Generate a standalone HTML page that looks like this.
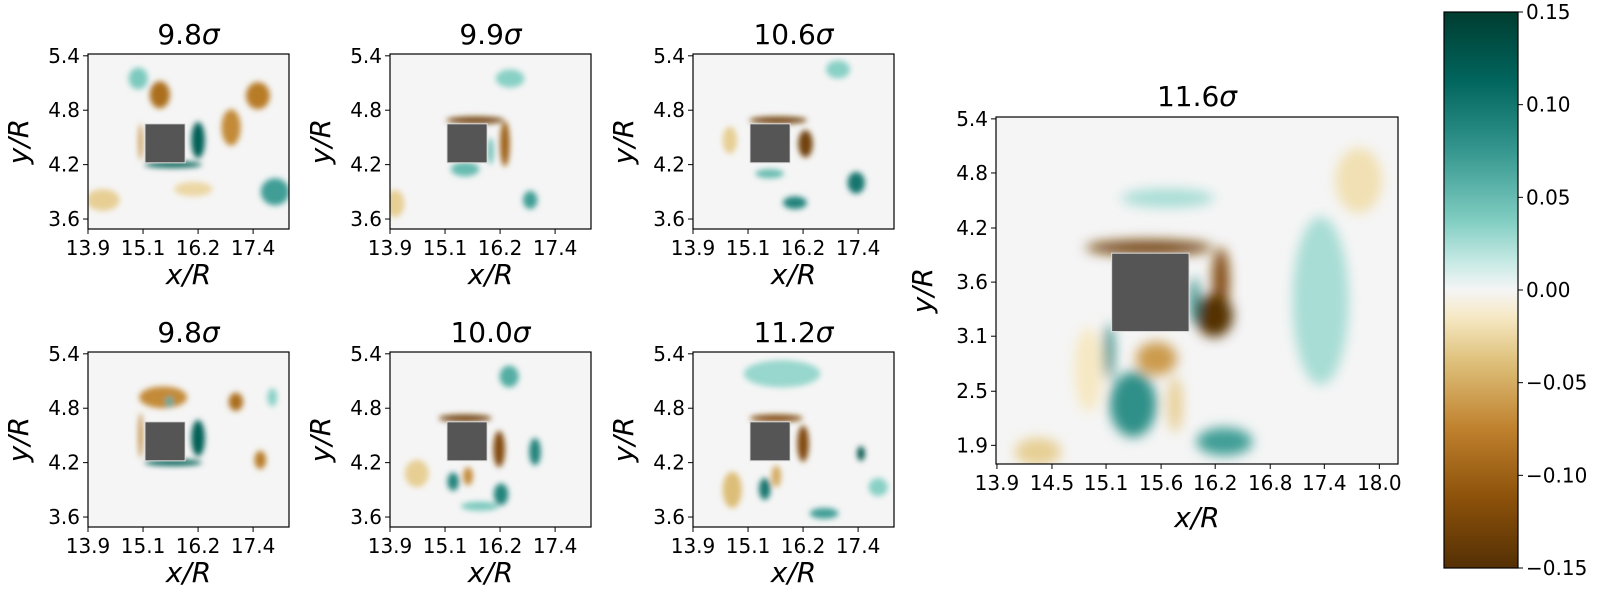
<!DOCTYPE html>
<html><head><meta charset="utf-8">
<style>
html,body{margin:0;padding:0;background:#fff;}
svg{display:block;font-family:"DejaVu Sans","Liberation Sans",sans-serif;}
</style></head>
<body>
<svg id="fig" width="1600" height="600" viewBox="0 0 1600 600" xmlns="http://www.w3.org/2000/svg">
<defs>
<filter id="blurS" x="-50%" y="-50%" width="200%" height="200%"><feGaussianBlur stdDeviation="3"/></filter>
<filter id="blurL" x="-50%" y="-50%" width="200%" height="200%"><feGaussianBlur stdDeviation="6"/></filter>
<linearGradient id="cbGrad" x1="0" y1="1" x2="0" y2="0">
<stop offset="0" stop-color="#543005"/><stop offset="0.125" stop-color="#8c510a"/><stop offset="0.25" stop-color="#bf812d"/><stop offset="0.375" stop-color="#dfc27d"/><stop offset="0.45" stop-color="#f6e8c3"/><stop offset="0.5" stop-color="#f5f5f5"/><stop offset="0.55" stop-color="#c7eae5"/><stop offset="0.625" stop-color="#80cdc1"/><stop offset="0.75" stop-color="#35978f"/><stop offset="0.875" stop-color="#01665e"/><stop offset="1" stop-color="#003c30"/>
</linearGradient>
</defs>
</svg>
<script>
// ---- data ----
const smallTitles = ["9.8", "9.9", "10.6", "9.8", "10.0", "11.2"];
const bigTitle = "11.6";
const smallXTicks = [13.9, 15.05, 16.2, 17.35];
const smallXTickLabels = ["13.9", "15.1", "16.2", "17.4"];
const smallYTicks = [5.4, 4.8, 4.2, 3.6];
const smallYTickLabels = ["5.4", "4.8", "4.2", "3.6"];
const bigXTicks = [13.9, 14.49, 15.07, 15.66, 16.24, 16.83, 17.41, 18.0];
const bigXTickLabels = ["13.9", "14.5", "15.1", "15.6", "16.2", "16.8", "17.4", "18.0"];
const bigYTicks = [5.4, 4.82, 4.23, 3.65, 3.07, 2.48, 1.9];
const bigYTickLabels = ["5.4", "4.8", "4.2", "3.6", "3.1", "2.5", "1.9"];
const cbTicks = [0.15, 0.10, 0.05, 0.00, -0.05, -0.10, -0.15];
const cbTickLabels = ["0.15", "0.10", "0.05", "0.00", "\u22120.05", "\u22120.10", "\u22120.15"];
const smallSquare = [15.09, 15.93, 4.22, 4.65];
const bigSquare = [15.13, 15.96, 3.12, 3.96];
// blobs: [x, y, rx, ry, vorticity]
const blobs1 = [[15.40,4.97,0.21,0.15,-0.09],[17.45,4.96,0.25,0.15,-0.08],[16.89,4.61,0.2,0.2,-0.07],[17.81,3.90,0.3,0.15,0.07],[16.2,4.47,0.14,0.2,0.12],[15.68,4.20,0.6,0.035,0.12],[14.21,3.81,0.35,0.12,-0.03],[16.1,3.93,0.4,0.08,-0.025],[14.95,5.15,0.2,0.12,0.04],[15.0,4.45,0.04,0.2,-0.07]];
const blobs2 = [[15.68,4.69,0.6,0.04,-0.13],[16.3,4.43,0.1,0.25,-0.1],[16.83,3.81,0.15,0.1,0.07],[16.41,5.15,0.3,0.1,0.035],[15.47,4.15,0.3,0.08,0.05],[14.0,3.77,0.2,0.15,-0.03],[16.0,4.35,0.06,0.15,0.05]];
const blobs3 = [[15.68,4.69,0.6,0.04,-0.13],[16.25,4.43,0.15,0.15,-0.13],[17.31,4.0,0.18,0.12,0.1],[16.03,3.78,0.25,0.07,0.09],[16.93,5.25,0.25,0.1,0.035],[14.67,4.47,0.15,0.15,-0.03],[15.5,4.1,0.3,0.05,0.05]];
const blobs4 = [[15.47,4.92,0.5,0.12,-0.07],[16.99,4.87,0.15,0.1,-0.09],[17.5,4.23,0.12,0.1,-0.08],[16.2,4.47,0.14,0.2,0.12],[15.68,4.20,0.6,0.035,0.12],[15.6,4.87,0.08,0.06,0.06],[17.75,4.92,0.1,0.1,0.035],[15.0,4.5,0.04,0.25,-0.08]];
const blobs5 = [[16.39,5.15,0.2,0.12,0.06],[15.47,4.69,0.55,0.04,-0.13],[16.18,4.35,0.12,0.2,-0.12],[16.93,4.32,0.12,0.15,0.09],[16.22,3.85,0.15,0.12,0.09],[15.22,3.99,0.12,0.1,0.09],[15.53,4.05,0.1,0.1,-0.07],[14.46,4.08,0.25,0.15,-0.03],[15.78,3.72,0.4,0.05,0.04]];
const blobs6 = [[15.76,5.18,0.8,0.15,0.03],[15.64,4.69,0.55,0.04,-0.12],[16.2,4.41,0.12,0.2,-0.12],[17.41,4.30,0.08,0.08,0.13],[15.4,3.91,0.12,0.12,0.1],[15.64,4.05,0.1,0.12,-0.05],[14.72,3.9,0.2,0.2,-0.04],[16.64,3.64,0.3,0.06,0.07],[17.77,3.93,0.2,0.1,0.035]];
const blobsBig = [[15.53,4.02,0.68,0.08,-0.13],[16.3,3.67,0.09,0.35,-0.12],[16.23,3.29,0.2,0.23,-0.15],[16.02,3.45,0.05,0.25,0.09],[15.36,2.34,0.25,0.35,0.08],[15.1,2.9,0.05,0.3,0.09],[15.61,2.83,0.22,0.18,-0.06],[15.81,2.34,0.08,0.3,-0.03],[16.34,1.94,0.3,0.15,0.07],[17.37,3.45,0.3,0.9,0.025],[15.73,4.55,0.5,0.1,0.025],[17.78,4.74,0.25,0.35,-0.02],[14.34,1.83,0.25,0.15,-0.03],[14.88,2.71,0.15,0.45,-0.015]];

const NS="http://www.w3.org/2000/svg";
const svg=document.getElementById('fig');
function mk(tag,attrs,parent){const e=document.createElementNS(NS,tag);for(const k in attrs)e.setAttribute(k,attrs[k]);(parent||svg).appendChild(e);return e;}
const stops=[[-1,[84,48,5]],[-0.75,[140,81,10]],[-0.5,[191,129,45]],[-0.25,[223,194,125]],[-0.1,[246,232,195]],[0,[245,245,245]],[0.1,[199,234,229]],[0.25,[128,205,193]],[0.5,[53,151,143]],[0.75,[1,102,94]],[1,[0,60,48]]];
function cmap(v){let t=Math.max(-1,Math.min(1,v/0.15));for(let i=0;i<stops.length-1;i++){const a=stops[i],b=stops[i+1];if(t<=b[0]){const f=(t-a[0])/(b[0]-a[0]);return 'rgb('+a[1].map((c,j)=>Math.round(c+(b[1][j]-c)*f)).join(',')+')';}}return 'rgb(0,60,48)';}

let clipId=0;
function panel(name,L,T,W,H,xd,yd,xt,xtl,yt,ytl,blobs,sq,title,blurId,titleY,xlabY,ylabX){
  const sx=v=>L+(v-xd[0])/(xd[1]-xd[0])*W;
  const sy=v=>T+(yd[1]-v)/(yd[1]-yd[0])*H;
  const g=mk('g',{});
  
  
  const cid='clip'+(clipId++);
  const cp=mk('clipPath',{id:cid},g);mk('rect',{x:L,y:T,width:W,height:H},cp);
  const bg=mk('rect',{x:L,y:T,width:W,height:H,fill:'#f5f5f5'},g);
  
  
  const fg=mk('g',{'clip-path':'url(#'+cid+')'},g);
  const fb=mk('g',{filter:'url(#'+blurId+')'},fg);
  blobs.forEach(b=>{
    const e=mk('ellipse',{cx:sx(b[0]),cy:sy(b[1]),rx:Math.abs(sx(b[0]+b[2])-sx(b[0])),ry:Math.abs(sy(b[1]+b[3])-sy(b[1])),fill:cmap(b[4])},fb);
    
    
  });
  const s=mk('rect',{x:sx(sq[0]),y:sy(sq[3]),width:sx(sq[1])-sx(sq[0]),height:sy(sq[2])-sy(sq[3]),fill:'#555',stroke:'#ddd','stroke-width':1},g);
  
  
  const fr=mk('rect',{x:L,y:T,width:W,height:H,fill:'none',stroke:'#000','stroke-width':1.2},g);
  
  
  xt.forEach((v,i)=>{const x=sx(v);mk('line',{x1:x,x2:x,y1:T+H,y2:T+H+5,stroke:'#000'},g);
    const t=mk('text',{x:x,y:T+H+26,'font-size':20,'text-anchor':'middle'},g);t.textContent=xtl[i];
    
    });
  yt.forEach((v,i)=>{const y=sy(v);mk('line',{x1:L-5,x2:L,y1:y,y2:y,stroke:'#000'},g);
    const t=mk('text',{x:L-8,y:y+7,'font-size':20,'text-anchor':'end'},g);t.textContent=ytl[i];
    
    });
  const tt=mk('text',{x:L+W/2,y:titleY,'font-size':28,'text-anchor':'middle'},g);
  
  
  tt.appendChild(document.createTextNode(title));
  const ts=mk('tspan',{'font-style':'italic'},tt);ts.textContent='\u03c3';
  const xl=mk('text',{x:L+W/2,y:xlabY,'font-size':28,'text-anchor':'middle','font-style':'italic'},g);xl.textContent='x/R';
  
  
  const yl=mk('text',{x:0,y:0,'font-size':28,'text-anchor':'middle','font-style':'italic',transform:'translate('+ylabX+','+(T+H/2)+') rotate(-90)'},g);yl.textContent='y/R';
  
  
}
const sxd=[13.9,18.1], syd=[3.49,5.42];
const cols=[88,390,693], rows=[54,352];
const sb=[blobs1,blobs2,blobs3,blobs4,blobs5,blobs6];
for(let r=0;r<2;r++)for(let c=0;c<3;c++){
  const k=r*3+c;
  panel('small-panel-'+(k+1),cols[c],rows[r],201,175,sxd,syd,smallXTicks,smallXTickLabels,smallYTicks,smallYTickLabels,sb[k],smallSquare,smallTitles[k],'blurS',rows[r]-10,rows[r]+230,cols[c]-60);
}
panel('big-panel',996,117,402,347,[13.89,18.2],[1.70,5.42],bigXTicks,bigXTickLabels,bigYTicks,bigYTickLabels,blobsBig,bigSquare,bigTitle,'blurL',106,527,932);

// colorbar
const cbT=12, cbB=568, cbL=1444, cbR=1518;
const cy=v=>cbT+(0.15-v)/0.30*(cbB-cbT);
const cg=mk('g',{});


mk('rect',{x:cbL,y:cbT,width:cbR-cbL,height:cbB-cbT,fill:'url(#cbGrad)',stroke:'#000','stroke-width':1.2},cg);
cbTicks.forEach((v,i)=>{const y=cy(v);mk('line',{x1:cbR,x2:cbR+5,y1:y,y2:y,stroke:'#000'},cg);
  const t=mk('text',{x:cbR+8,y:y+7,'font-size':20},cg);t.textContent=cbTickLabels[i];
  
  });
</script>
</body></html>
